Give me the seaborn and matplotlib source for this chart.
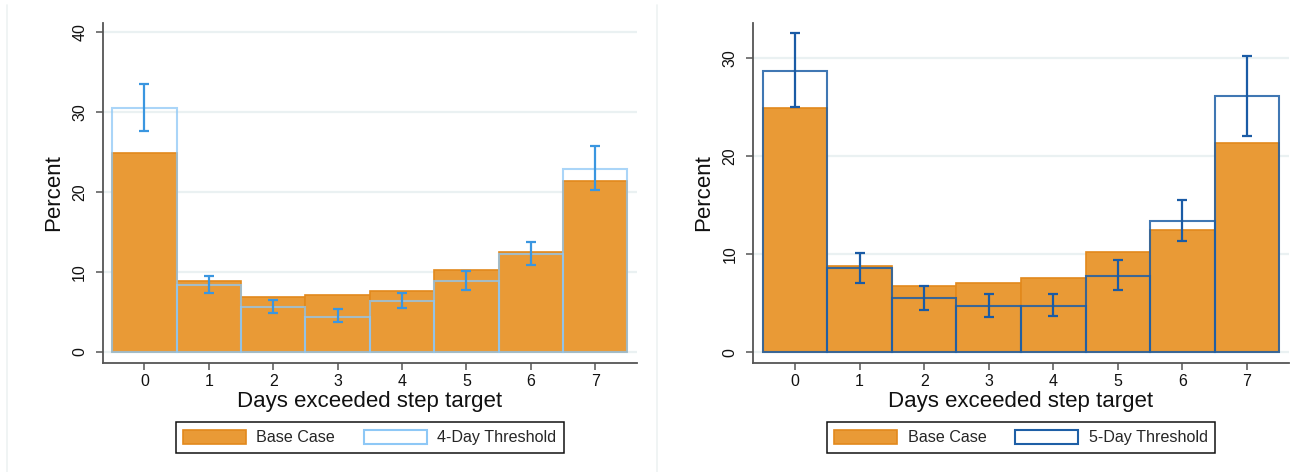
import matplotlib
matplotlib.use("Agg")
import matplotlib.pyplot as plt
from matplotlib.patches import Patch
from matplotlib.lines import Line2D
import seaborn as sns
import pandas as pd
import numpy as np

# ---- data ----
days = ["0", "1", "2", "3", "4", "5", "6", "7"]
base_case = [24.9, 8.8, 6.8, 7.1, 7.6, 10.2, 12.5, 21.4]

four_day = [30.5, 8.4, 5.6, 4.4, 6.4, 8.8, 12.2, 22.9]
four_day_lo = [27.6, 7.3, 4.8, 3.7, 5.5, 7.7, 10.8, 20.2]
four_day_hi = [33.5, 9.5, 6.5, 5.3, 7.4, 10.1, 13.7, 25.7]

five_day = [28.7, 8.6, 5.5, 4.7, 4.7, 7.8, 13.4, 26.1]
five_day_lo = [25.0, 7.1, 4.3, 3.6, 3.7, 6.3, 11.4, 22.1]
five_day_hi = [32.6, 10.1, 6.8, 5.9, 5.9, 9.4, 15.5, 30.2]

left_yticks = [0, 10, 20, 30, 40]
right_yticks = [0, 10, 20, 30]

xlabel = "Days exceeded step target"
ylabel = "Percent"

# ---- style ----
sns.set_theme(style="white")
plt.rcParams["font.family"] = ["Liberation Sans", "DejaVu Sans"]

ORANGE = "#E99A36"
ORANGE_EDGE = "#E2891C"
GRID = "#EAF1F2"
SPINE = "#555555"

fig = plt.figure(figsize=(12.96, 4.72), dpi=100)
fig.patch.set_facecolor("white")

# faint panel separators
for xf in (7 / 1296, 657 / 1296):
    fig.add_artist(Line2D([xf, xf], [0, 1 - 5 / 472], transform=fig.transFigure,
                          color="#EEF2F2", lw=1.2))

ax_b = 1 - 363 / 472
ax_h = (363 - 23) / 472
axL = fig.add_axes([102.5 / 1296, ax_b, (637 - 102.5) / 1296, ax_h])
axR = fig.add_axes([753 / 1296, ax_b, (1289 - 753) / 1296, ax_h])

panels = [
    (axL, four_day, four_day_lo, four_day_hi, "4-Day Threshold", "#8EC8F6", 0.75, "#3A96E0",
     left_yticks, (-1.4, 41.1)),
    (axR, five_day, five_day_lo, five_day_hi, "5-Day Threshold", "#1E5FA6", 0.85, "#1A5BA5",
     right_yticks, (-1.1, 33.6)),
]

for ax, thr, lo, hi, thr_label, thr_col, thr_alpha, err_col, yt, ylim in panels:
    df_base = pd.DataFrame({"day": days, "pct": base_case})
    df_thr = pd.DataFrame({"day": days, "pct": thr})

    sns.barplot(data=df_base, x="day", y="pct", order=days, width=1.0,
                color=ORANGE, saturation=1, edgecolor=ORANGE_EDGE, linewidth=1.2,
                errorbar=None, ax=ax, zorder=2)
    sns.barplot(data=df_thr, x="day", y="pct", order=days, width=1.0,
                fill=False, edgecolor=thr_col, linewidth=1.5, alpha=thr_alpha,
                errorbar=None, ax=ax, zorder=3)
    thr_arr = np.array(thr)
    yerr = np.vstack([thr_arr - np.array(lo), np.array(hi) - thr_arr])
    ax.errorbar(np.arange(len(days)), thr_arr, yerr=yerr, fmt="none",
                ecolor=err_col, elinewidth=1.6, capsize=3.8, capthick=1.6, zorder=4)

    ax.set_xlim(-0.65, 7.65)
    ax.set_ylim(*ylim)
    ax.set_yticks(yt)
    ax.set_yticklabels([str(v) for v in yt], rotation=90, va="center", ha="right")
    ax.yaxis.grid(True, color=GRID, linewidth=1.6)
    ax.xaxis.grid(False)
    ax.set_axisbelow(True)

    for s in ("top", "right"):
        ax.spines[s].set_visible(False)
    for s in ("left", "bottom"):
        ax.spines[s].set_color(SPINE)
        ax.spines[s].set_linewidth(1.3)

    ax.tick_params(axis="both", which="major", direction="out", length=5, width=1.1,
                   color=SPINE, labelsize=11.5, labelcolor="#111111", pad=3,
                   left=True, bottom=True)
    ax.tick_params(axis="y", pad=6)

    ax.set_xlabel(xlabel, fontsize=16, color="#111111", labelpad=1)
    ax.set_ylabel(ylabel, fontsize=16, color="#111111", labelpad=6)

    handles = [
        Patch(facecolor=ORANGE, edgecolor=ORANGE_EDGE, linewidth=1.2, label="Base Case"),
        Patch(facecolor="white", edgecolor=thr_col, linewidth=1.5, label=thr_label),
    ]
    pos = ax.get_position()
    cx = (pos.x0 + pos.x1) / 2
    leg = ax.legend(handles=handles, loc="center", bbox_to_anchor=(cx, 1 - 437.5 / 472),
                    bbox_transform=fig.transFigure, ncol=2, frameon=True, fancybox=False,
                    edgecolor="#111111", framealpha=1, fontsize=11.6,
                    handlelength=3.9, handleheight=1.0, handletextpad=0.65,
                    columnspacing=1.8, borderpad=0.45, borderaxespad=0)
    leg.get_frame().set_linewidth(1.1)

fig.savefig("out.png", dpi=100, facecolor="white")
